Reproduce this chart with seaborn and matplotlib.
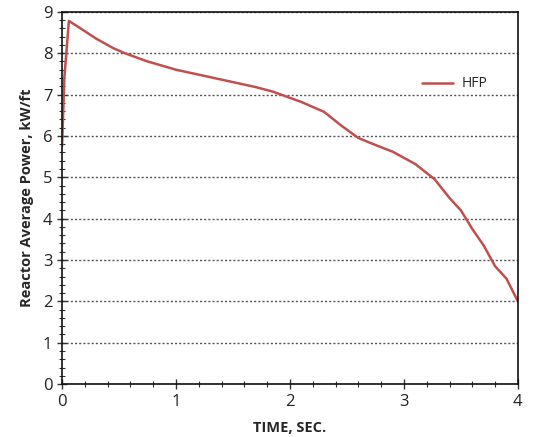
import numpy as np
import pandas as pd
import matplotlib
matplotlib.use("Agg")
import matplotlib.pyplot as plt
import seaborn as sns
from matplotlib.ticker import MultipleLocator

# reactor average power transient
time_s = [0.0, 0.02, 0.06, 0.15, 0.3, 0.45, 0.55, 0.75, 1.0, 1.25, 1.5, 1.7, 1.85, 1.95,
          2.1, 2.3, 2.45, 2.6, 2.75, 2.9, 3.1, 3.27, 3.4, 3.5, 3.6, 3.7, 3.8, 3.9, 4.0]
power_kw = [5.75, 7.4, 8.78, 8.62, 8.35, 8.12, 8.0, 7.8, 7.6, 7.45, 7.3, 7.18, 7.07, 6.97,
            6.82, 6.58, 6.25, 5.95, 5.78, 5.62, 5.32, 4.95, 4.5, 4.2, 3.75, 3.35, 2.85, 2.55, 2.0]
series = "HFP"

df = pd.DataFrame({"time": time_s, "power": power_kw, "case": series})

sns.set_style("white")
plt.rcParams['font.family'] = ['Open Sans', 'DejaVu Sans']

fig = plt.figure(figsize=(5.35, 4.37), dpi=100)
ax = fig.add_axes([0.116, 0.121, 0.852, 0.852])

sns.lineplot(data=df, x="time", y="power", hue="case", palette=["#C0504D"],
             linewidth=1.8, ax=ax)

ax.set_xlim(0, 4)
ax.set_ylim(0, 9)
ax.xaxis.set_major_locator(MultipleLocator(1))
ax.xaxis.set_minor_locator(MultipleLocator(0.2))
ax.yaxis.set_major_locator(MultipleLocator(1))
ax.yaxis.set_minor_locator(MultipleLocator(0.2))
ax.tick_params(which="both", bottom=True, left=True, top=False, right=False)
ax.tick_params(which="major", direction="inout", length=7, width=1, labelsize=12,
               colors="#333333", labelcolor="#222222")
ax.tick_params(which="minor", direction="inout", length=4, width=0.8, colors="#333333")
ax.yaxis.grid(True, which="major", linestyle=(0, (1.5, 1.5)), color="#555555", linewidth=1)
ax.set_axisbelow(True)

for s in ax.spines.values():
    s.set_color("#111111")
    s.set_linewidth(1.2)

ax.set_xlabel("TIME, SEC.", fontsize=10.5, fontweight="bold", labelpad=8)
ax.set_ylabel("Reactor Average Power, kW/ft", fontsize=10.5, fontweight="bold", labelpad=6)

ax.legend(loc="upper right", bbox_to_anchor=(0.96, 0.86), frameon=False, fontsize=10,
          handlelength=2.2, handletextpad=0.6)

plt.savefig("out.png", dpi=100)
